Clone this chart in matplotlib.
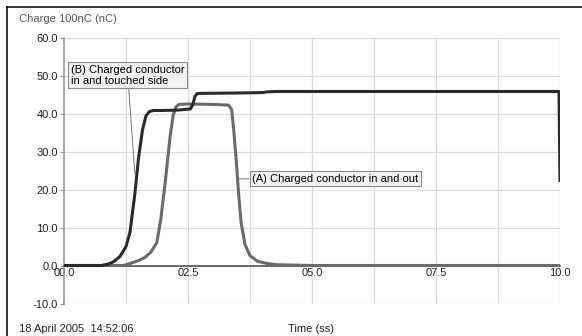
import matplotlib
matplotlib.use("Agg")
import matplotlib.pyplot as plt
from matplotlib.lines import Line2D

plt.rcParams["font.family"] = ["Liberation Sans", "DejaVu Sans"]

# (A) charged conductor in and out
time_a = [0, 1.2, 1.35, 1.5, 1.63, 1.75, 1.87, 1.95, 2.04, 2.14, 2.2, 2.26, 2.32, 2.5,
          3.0, 3.32, 3.38, 3.42, 3.47, 3.52, 3.57, 3.65, 3.75, 3.9, 4.1, 4.3, 5.0, 10.0]
charge_a = [0, 0, 0.6, 1.3, 2.1, 3.5, 6.0, 12.0, 21.8, 34.0, 39.5, 41.8, 42.4, 42.5,
            42.4, 42.2, 41.0, 36.0, 28.0, 19.0, 11.3, 5.5, 2.6, 1.1, 0.5, 0.2, 0, 0]

# (B) charged conductor in and touched side
time_b = [0, 0.75, 0.9, 1.0, 1.13, 1.25, 1.33, 1.43, 1.5, 1.58, 1.65, 1.72, 1.8, 2.0,
          2.3, 2.55, 2.6, 2.64, 2.68, 2.75, 3.5, 4.0, 4.1, 4.3, 5.0, 7.5, 9.98, 10.0]
charge_b = [0, 0, 0.4, 1.0, 2.4, 5.0, 8.7, 19.0, 28.0, 35.5, 39.3, 40.5, 40.8, 40.8,
            40.9, 41.2, 42.5, 44.5, 45.2, 45.3, 45.4, 45.5, 45.7, 45.8, 45.8, 45.8, 45.8, 22.0]

x_ticks = [0, 2.5, 5.0, 7.5, 10.0]
x_labels = ["00.0", "02.5", "05.0", "07.5", "10.0"]
y_ticks = [-10, 0, 10, 20, 30, 40, 50, 60]

fig = plt.figure(figsize=(5.82, 3.36), dpi=100)
ax = fig.add_axes([64 / 582, 1 - 303.5 / 336, 496 / 582, 266 / 336])
ax.set_xlim(0, 10)
ax.set_ylim(-10, 60)

# light grid, every 1.25 s and every 10 nC
for gx in [i * 1.25 for i in range(1, 9)]:
    ax.axvline(gx, color="#dcdcdc", lw=0.9, zorder=0)
for gy in y_ticks:
    ax.axhline(gy, color="#dcdcdc", lw=0.9, zorder=0)

for side in ("top", "right"):
    ax.spines[side].set_visible(False)
ax.spines["left"].set_color("#9a9a9a")
ax.spines["left"].set_linewidth(1.2)
ax.spines["bottom"].set_position(("data", 0))
ax.spines["bottom"].set_color("#555555")
ax.spines["bottom"].set_linewidth(1.2)

ax.set_xticks(x_ticks)
ax.set_xticklabels(x_labels)
ax.set_yticks(y_ticks)
ax.set_yticklabels([f"{v:.1f}" for v in y_ticks])
ax.tick_params(axis="x", length=0, pad=2, labelsize=8, colors="#222222")
ax.tick_params(axis="y", length=3, width=0.8, pad=1.5, labelsize=8,
               colors="#999999", labelcolor="#222222")

ax.plot(time_a, charge_a, color="#6a6a6a", lw=2.2, solid_joinstyle="round",
        solid_capstyle="round", zorder=3)
ax.plot(time_b, charge_b, color="#2a2a2a", lw=2.2, solid_joinstyle="round",
        solid_capstyle="butt", zorder=4)

box = dict(boxstyle="square,pad=0.22", fc="#f2f2f2", ec="#8a8a8a", lw=0.8)
ax.annotate("(B) Charged conductor\nin and touched side", xy=(1.43, 24.0),
            xytext=(0.14, 52.8), ha="left", va="top", fontsize=8,
            linespacing=1.1, bbox=box, zorder=6,
            arrowprops=dict(arrowstyle="-", color="#777777", lw=0.7,
                            shrinkA=0, shrinkB=0))
ax.annotate("(A) Charged conductor in and out", xy=(3.51, 22.8),
            xytext=(3.79, 22.8), ha="left", va="center", fontsize=8,
            bbox=box, zorder=6,
            arrowprops=dict(arrowstyle="-", color="#777777", lw=0.7,
                            shrinkA=0, shrinkB=0))

fig.text(19 / 582, 1 - 19 / 336, "Charge 100nC (nC)", fontsize=8,
         color="#555555", ha="left", va="center")
fig.text(19 / 582, 1 - 329 / 336, "18 April 2005  14:52:06", fontsize=8,
         color="#222222", ha="left", va="center")
fig.text(311 / 582, 1 - 329 / 336, "Time (ss)", fontsize=8,
         color="#222222", ha="center", va="center")

# window frame: top and left edges only
fig.add_artist(Line2D([7 / 582, 1], [1 - 7 / 336, 1 - 7 / 336],
                      transform=fig.transFigure, color="#111111", lw=1.2))
fig.add_artist(Line2D([7 / 582, 7 / 582], [0, 1 - 7 / 336],
                      transform=fig.transFigure, color="#111111", lw=1.2))

fig.savefig("out.png", dpi=100)
